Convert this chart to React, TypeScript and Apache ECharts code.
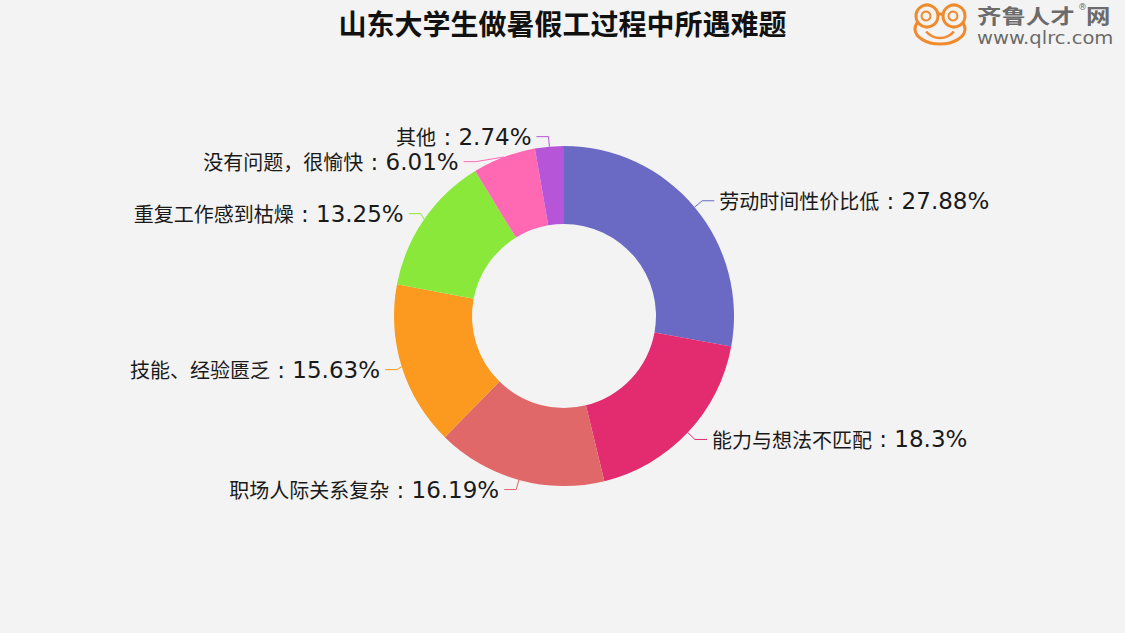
import React, { useEffect, useRef } from "react";
import * as echarts from "echarts";

const categories = [
  "劳动时间性价比低",
  "能力与想法不匹配",
  "职场人际关系复杂",
  "技能、经验匮乏",
  "重复工作感到枯燥",
  "没有问题，很愉快",
  "其他",
];
const values = [27.88, 18.3, 16.19, 15.63, 13.25, 6.01, 2.74];
const colors = ["#6a6ac4", "#e32b6f", "#e06868", "#fb9a1e", "#8ae83a", "#ff69b4", "#b655d8"];
const titleText = "山东大学生做暑假工过程中所遇难题";

export default function App() {
  const ref = useRef<HTMLDivElement>(null);
  useEffect(() => {
    if (!ref.current) return;
    const chart = echarts.init(ref.current, null, { renderer: "svg" });
    const orange = "#f08a2c";
    const gray = "#6b6b6b";
    chart.setOption({
      animation: false,
      backgroundColor: "#f3f3f3",
      title: {
        text: titleText,
        left: "center",
        top: 4,
        textStyle: {
          fontFamily: "Noto Sans CJK SC",
          fontSize: 28,
          fontWeight: "bold",
          color: "#111",
        },
      },
      graphic: [
        { type: "ellipse", shape: { cx: 940, cy: 29, rx: 25, ry: 15 }, style: { fill: "none", stroke: orange, lineWidth: 3 } },
        { type: "circle", shape: { cx: 927, cy: 16, r: 11 }, style: { fill: "#f3f3f3", stroke: orange, lineWidth: 3 } },
        { type: "circle", shape: { cx: 954, cy: 16, r: 11 }, style: { fill: "#f3f3f3", stroke: orange, lineWidth: 3 } },
        { type: "circle", shape: { cx: 926, cy: 16, r: 4.5 }, style: { fill: "none", stroke: orange, lineWidth: 2 } },
        { type: "circle", shape: { cx: 953, cy: 16, r: 4.5 }, style: { fill: "none", stroke: orange, lineWidth: 2 } },
        { type: "arc", shape: { cx: 940, cy: 20, r: 18, startAngle: Math.PI * 0.22, endAngle: Math.PI * 0.78 }, style: { fill: "none", stroke: orange, lineWidth: 2.5 } },
        {
          type: "text",
          x: 977,
          y: 5,
          scaleX: 1.22,
          style: { text: "齐鲁人才", fontFamily: "Noto Sans CJK SC", fontSize: 20, fontWeight: "bold", fill: gray },
        },
        {
          type: "text",
          x: 1086,
          y: 5,
          scaleX: 1.22,
          style: { text: "网", fontFamily: "Noto Sans CJK SC", fontSize: 20, fontWeight: "bold", fill: gray },
        },
        {
          type: "text",
          x: 1078,
          y: 2,
          style: { text: "®", fontFamily: "DejaVu Sans", fontSize: 9, fill: gray },
        },
        {
          type: "text",
          x: 977,
          y: 29,
          scaleX: 1.15,
          style: { text: "www.qlrc.com", fontFamily: "DejaVu Sans", fontSize: 17, fill: gray },
        },
      ],
      series: [
        {
          type: "pie",
          center: [564, 316],
          radius: [92, 170],
          startAngle: 90,
          clockwise: true,
          avoidLabelOverlap: true,
          color: colors,
          data: categories.map((name, i) => ({ name, value: values[i] })),
          label: {
            formatter: (p: any) => `{n|${p.name}}{v| : ${p.value}%}`,
            color: "#1a1a1a",
            lineHeight: 22,
            rich: {
              n: { fontFamily: "Noto Sans CJK SC", fontSize: 20, lineHeight: 22, color: "#1a1a1a" },
              v: { fontFamily: "DejaVu Sans", fontSize: 23, lineHeight: 22, color: "#1a1a1a" },
            },
          },
          labelLine: { length: 10, length2: 12, lineStyle: { width: 1 } },
        },
      ],
    });
    return () => chart.dispose();
  }, []);
  return (
    <div
      ref={ref}
      style={{ position: "fixed", left: 0, top: 0, width: 1125, height: 633 }}
    />
  );
}
